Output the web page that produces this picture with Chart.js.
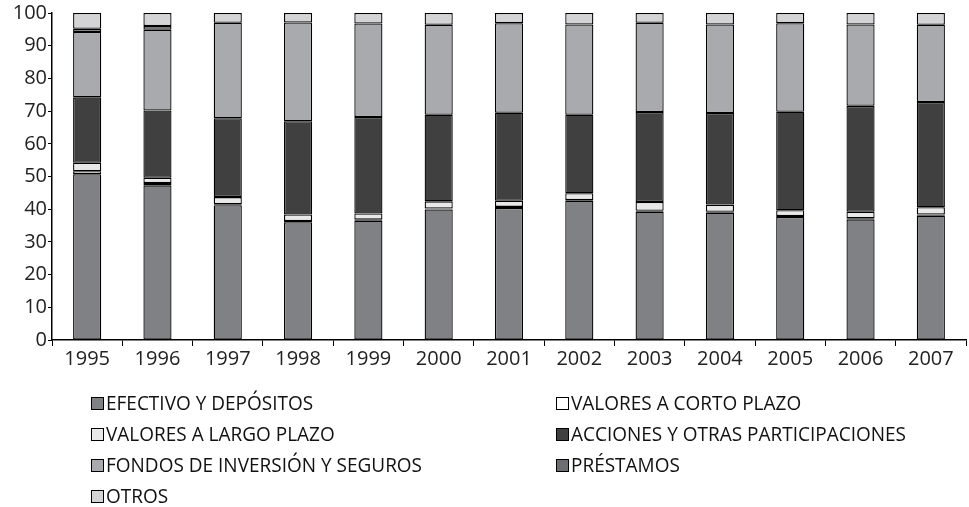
<!DOCTYPE html>
<html><head><meta charset="utf-8">
<script src="https://cdn.jsdelivr.net/npm/chart.js@4"></script>
<style>
html,body{margin:0;padding:0;background:#fff;}
#wrap{position:relative;width:969px;height:507px;overflow:hidden;}
#c{position:absolute;left:0;top:0;}
.box{position:absolute;width:11px;height:11px;border:1px solid #000;}
.lt{position:absolute;font-family:"Open Sans",sans-serif;font-weight:400;font-size:20px;color:#111;white-space:nowrap;line-height:22px;transform-origin:0 50%;}
</style></head>
<body>
<div id="wrap"><canvas id="c" width="969" height="507"></canvas><div id="legend"></div></div>
<script>
const years = ['1995','1996','1997','1998','1999','2000','2001','2002','2003','2004','2005','2006','2007'];
const efectivo   = [50.7, 47.3, 41.2, 36.0, 36.5, 39.9, 40.4, 42.6, 39.2, 38.9, 37.6, 36.9, 38.0];
const valCorto   = [0.9, 0.7, 0.3, 0.4, 0.3, 0.3, 0.3, 0.2, 0.3, 0.3, 0.3, 0.3, 0.4];
const valLargo   = [2.6, 1.6, 2.2, 2.0, 1.9, 2.2, 1.9, 2.1, 2.7, 2.2, 1.8, 2.0, 2.2];
const acciones   = [20.0, 20.6, 24.1, 28.5, 29.5, 26.5, 26.9, 24.0, 27.5, 28.0, 30.1, 32.4, 32.2];
const fondos     = [20.0, 24.7, 29.2, 30.2, 28.6, 27.5, 27.4, 27.6, 27.3, 27.1, 27.1, 24.9, 23.6];
const prestamos  = [1.0, 1.1, null, null, null, null, null, null, null, null, null, null, null];
const otros      = [4.8, 4.0, 3.0, 2.9, 3.2, 3.6, 3.1, 3.5, 3.0, 3.5, 3.1, 3.5, 3.6];
const yTicks = [0,10,20,30,40,50,60,70,80,90,100];

const seriesNames = ['EFECTIVO Y DEPÓSITOS','VALORES A CORTO PLAZO','VALORES A LARGO PLAZO','ACCIONES Y OTRAS PARTICIPACIONES','FONDOS DE INVERSIÓN Y SEGUROS','PRÉSTAMOS','OTROS'];
const seriesData = [efectivo, valCorto, valLargo, acciones, fondos, prestamos, otros];
const seriesColors = ['#808185','#ffffff','#e8e8e8','#404040','#a9aaae','#6d6e71','#d4d4d6'];

const datasets = seriesNames.map((n,i)=>({
  label:n, data:seriesData[i], backgroundColor:seriesColors[i],
  borderColor:'#000', borderWidth:1.3, borderSkipped:false,
  barPercentage:0.4, categoryPercentage:1.0
}));

const tickFont = {family:'"Open Sans", sans-serif', size:20};
new Chart(document.getElementById('c'), {
  type:'bar',
  data:{labels:years, datasets},
  options:{
    responsive:false, animation:false, devicePixelRatio:1,
    layout:{padding:{top:13,right:3,left:0,bottom:0}},
    plugins:{legend:{display:false}, tooltip:{enabled:false}},
    scales:{
      x:{stacked:true,
        grid:{display:true, offset:true, drawOnChartArea:false, tickLength:6, color:'#000', lineWidth:1},
        border:{display:true, color:'#000', width:1.5},
        ticks:{font:tickFont, color:'#222', padding:1, maxRotation:0},
        afterFit:s=>{s.height=167;}
      },
      y:{stacked:true, min:0, max:100,
        afterBuildTicks:s=>{s.ticks=yTicks.map(v=>({value:v}));},
        grid:{display:true, drawOnChartArea:false, tickLength:4, color:'#000', lineWidth:1},
        border:{display:true, color:'#000', width:1.5},
        ticks:{font:tickFont, color:'#222', padding:1},
        afterFit:s=>{s.width=52;}
      }
    }
  }
});

const leg = document.getElementById('legend');
const colX = [[91,106],[556,571]];
const rowY = [403,434,465,496];
const texts = [];
seriesNames.forEach((n,i)=>{
  const r = Math.floor(i/2), c = i%2;
  const b = document.createElement('div'); b.className='box';
  b.style.left = colX[c][0]+'px'; b.style.top = (rowY[r]-6)+'px'; b.style.background = seriesColors[i];
  const t = document.createElement('div'); t.className='lt'; t.textContent = n;
  t.style.left = colX[c][1]+'px'; t.style.top = (rowY[r]-11)+'px';
  leg.appendChild(b); leg.appendChild(t); texts.push(t);
});
// condensed look: scale text so longest label spans ~335px as in the reference
const longest = texts[3].getBoundingClientRect().width;
const sx = 335/longest;
texts.forEach(t=>{t.style.transform='scaleX('+sx+')';});
</script>
</body></html>
